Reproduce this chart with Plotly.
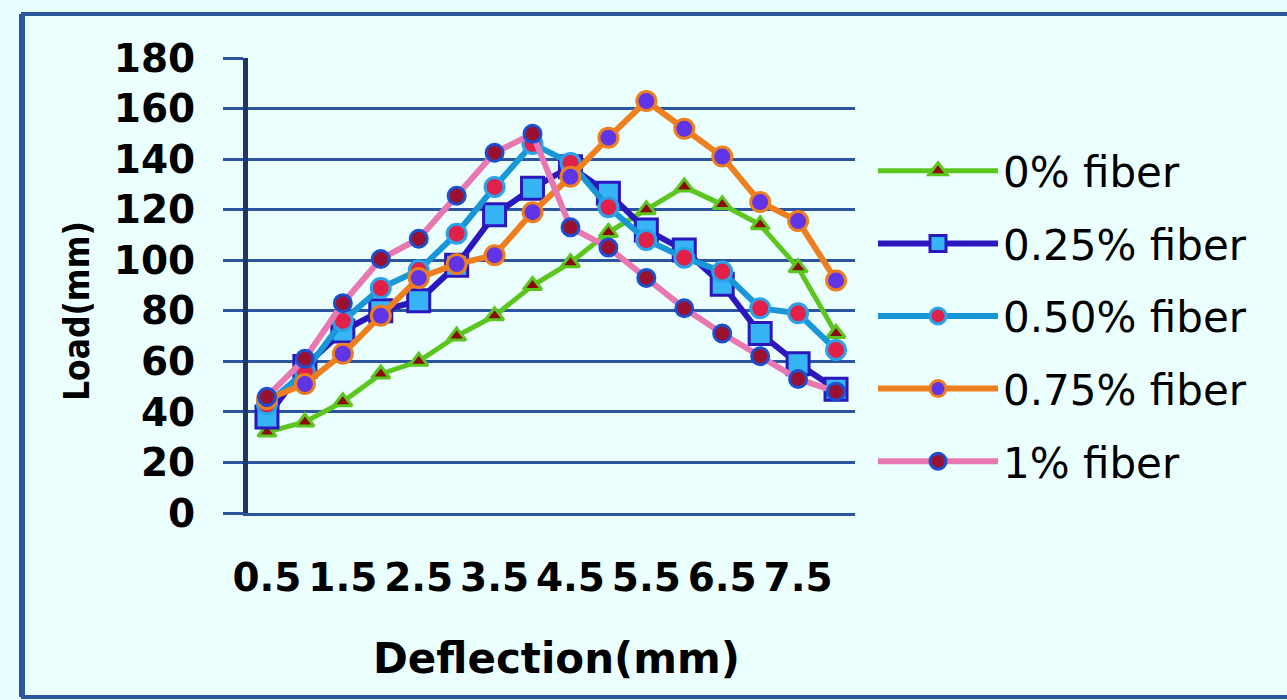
import plotly.graph_objects as go

# Deflection steps (mm) on the category axis
deflection = ["0.5", "1", "1.5", "2", "2.5", "3", "3.5", "4",
              "4.5", "5", "5.5", "6", "6.5", "7", "7.5", "8"]
x_tick_labels = ["0.5", "1.5", "2.5", "3.5", "4.5", "5.5", "6.5", "7.5"]
y_ticks = [0, 20, 40, 60, 80, 100, 120, 140, 160, 180]

# Load readings for each fibre content
fiber_0 = [32, 36, 44, 55, 60, 70, 78, 90, 99, 111, 120, 129, 122, 114, 97, 71]
fiber_025 = [38, 58, 72, 80, 84, 98, 118, 128.5, 137, 126.5, 112, 104, 90.5, 71, 59, 49]
fiber_050 = [43, 56, 76, 89, 96, 110.5, 129, 146, 138.5, 121, 108, 101, 95.5, 81, 79, 64.5]
fiber_075 = [45, 51, 63, 78, 93, 98.5, 102, 119, 133, 148.5, 163, 152, 141, 123, 115.5, 92]
fiber_1 = [46, 61, 83, 100.5, 108.5, 125.5, 142.5, 150, 113, 105, 93, 81, 71, 62, 53, 48]

series_names = ["0% fiber", "0.25% fiber", "0.50% fiber", "0.75% fiber", "1% fiber"]

styles = [
    dict(line="#5CC61E", symbol="triangle-up", size=16, fill="#8B0A0A", edge="#5CC61E", lw=5),
    dict(line="#2B17BE", symbol="square", size=22, fill="#36B4F6", edge="#2B17BE", lw=6),
    dict(line="#1896D6", symbol="circle", size=19, fill="#E3204A", edge="#2AA2EA", lw=6),
    dict(line="#EE7F1E", symbol="circle", size=19, fill="#6035E8", edge="#EE7F1E", lw=6),
    dict(line="#E877B2", symbol="circle", size=17, fill="#9A1030", edge="#1A4FD0", lw=6),
]

fig = go.Figure()
for i, (name, vals, st) in enumerate(zip(series_names,
                                          [fiber_0, fiber_025, fiber_050, fiber_075, fiber_1],
                                          styles)):
    fig.add_trace(go.Scatter(
        x=deflection, y=vals, name=name, mode="lines+markers",
        legendgroup=f"g{i}",
        line=dict(color=st["line"], width=st["lw"]),
        marker=dict(symbol=st["symbol"], size=st["size"], color=st["fill"],
                    line=dict(color=st["edge"], width=3)),
    ))

grid_col = "#2B55A0"
L, R, T, B = 248, 432, 58, 187
W, H = 1287, 700
pw, ph = W - L - R, H - T - B


def px(x):
    return (x - L) / pw


def py(y):
    return (H - B - y) / ph


fig.update_layout(
    width=W, height=H,
    margin=dict(l=L, r=R, t=T, b=B),
    paper_bgcolor="#E9FEFE",
    plot_bgcolor="#EBFFFF",
    showlegend=True,
    legend=dict(
        x=px(873), y=py(137), xanchor="left", yanchor="top",
        bgcolor="rgba(0,0,0,0)",
        font=dict(family="DejaVu Sans", size=42, color="#000000"),
        itemwidth=120, tracegroupgap=15,
    ),
    xaxis=dict(
        type="category", range=[-0.5, 15.5],
        tickmode="array", tickvals=x_tick_labels, ticktext=x_tick_labels,
        showgrid=False, showline=True, linecolor=grid_col, linewidth=3,
        ticks="", ticklabelstandoff=28,
        tickfont=dict(family="DejaVu Sans", size=39, weight="bold", color="#000000"),
        zeroline=False,
    ),
    yaxis=dict(
        range=[0, 180], tickvals=y_ticks,
        showgrid=True, gridcolor=grid_col, gridwidth=3,
        showline=True, linecolor="#1F3566", linewidth=5,
        ticks="outside", ticklen=20, tickwidth=3, tickcolor=grid_col,
        ticklabelstandoff=20,
        tickfont=dict(family="DejaVu Sans", size=39, weight="bold", color="#000000"),
        zeroline=False,
    ),
    shapes=[
        # chart frame
        dict(type="rect", xref="paper", yref="paper", layer="below",
             x0=px(23), x1=px(1320), y0=py(697), y1=py(14),
             line=dict(color="#2B579C", width=4), fillcolor="#EBFFFF"),
        dict(type="line", xref="paper", yref="paper",
             x0=px(22), x1=px(22), y0=py(697), y1=py(14),
             line=dict(color="#2B579C", width=6)),
    ],
    annotations=[
        dict(text="Load(mm)", xref="paper", yref="paper", x=px(77), y=py(311),
             xanchor="center", yanchor="middle",
             textangle=-90, showarrow=False,
             font=dict(family="DejaVu Sans Condensed, Liberation Sans", size=35,
                       weight="bold", color="#000000")),
        dict(text="Deflection(mm)", xref="paper", yref="paper", x=px(556), y=py(658),
             xanchor="center", yanchor="middle", showarrow=False,
             font=dict(family="DejaVu Sans", size=42, weight="bold", color="#000000")),
    ],
)

fig.write_html("out.html")
